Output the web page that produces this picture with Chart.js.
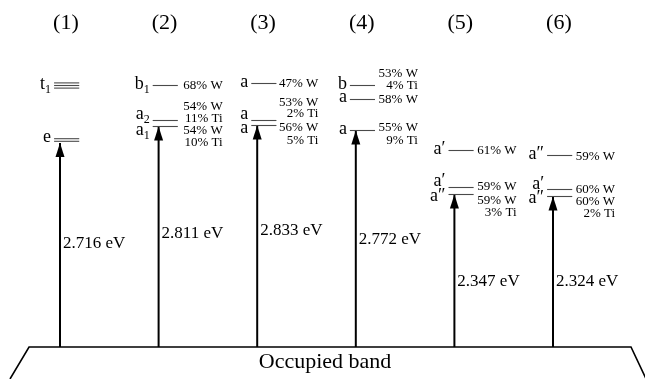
<!DOCTYPE html>
<html><head><meta charset="utf-8">
<script src="https://cdn.jsdelivr.net/npm/chart.js@4"></script>
<style>html,body{margin:0;padding:0;background:#fff}#wrap{width:645px;height:379px;position:relative}</style>
</head><body><div id="wrap"><canvas id="c"></canvas></div>
<script>
// ---------- DATA ----------
const columnTitles = ['(1)', '(2)', '(3)', '(4)', '(5)', '(6)'];
const excitationEnergies = [2.716, 2.811, 2.833, 2.772, 2.347, 2.324]; // eV
// level heights above the occupied band (diagram units), per column
const levelHeights = [
  [261.5, 207],
  [261.5, 226.5, 220.5],
  [263.5, 226.5, 221.5],
  [261.5, 247.5, 216.5],
  [196.5, 159.5, 152.5],
  [191.5, 157.5, 150.5]
];
const levelNames = [
  ['t', 'e'],
  ['b', 'a', 'a'],
  ['a', 'a', 'a'],
  ['b', 'a', 'a'],
  ['a\u2032', 'a\u2032', 'a\u2033'],
  ['a\u2033', 'a\u2032', 'a\u2033']
];
const levelSubs = [
  ['1', ''],
  ['1', '2', '1'],
  ['', '', ''],
  ['', '', ''],
  ['', '', ''],
  ['', '', '']
];
const levelDegeneracy = [
  [3, 2],
  [1, 1, 1],
  [1, 1, 1],
  [1, 1, 1],
  [1, 1, 1],
  [1, 1, 1]
];
// orbital composition labels and their heights
const compositionText = [
  [],
  ['68% W', '54% W', '11% Ti', '54% W', '10% Ti'],
  ['47% W', '53% W', '2% Ti', '56% W', '5% Ti'],
  ['53% W', '4% Ti', '58% W', '55% W', '9% Ti'],
  ['61% W', '59% W', '59% W', '3% Ti'],
  ['59% W', '60% W', '60% W', '2% Ti']
];
const compositionHeights = [
  [],
  [261, 240, 228, 216, 204],
  [263, 244, 233, 219, 206],
  [273, 261, 247, 219, 206],
  [196, 160, 146, 134],
  [190, 157, 145, 133]
];
const energyLabelHeights = [103, 113, 116, 107, 65, 65];
const bandLabel = 'Occupied band';
const bandOutline = [
  {x: -0.507, y: -32}, {x: -0.314, y: 0}, {x: 5.791, y: 0}, {x: 5.944, y: -32}
];

// ---------- LAYOUT ----------
const LINE_L = -0.06, LINE_R = 0.195;      // level line extent (column units)
const DEG_GAP = 2.6;                        // spacing of degenerate lines
const COMP_RIGHT = [0, 0.65, 0.62, 0.63, 0.63, 0.63];
const NAME_DY = [[0, 2], [0, 5, -5], [0, 5, -4], [0, 1, 0], [0, 5, -3], [0, 4, -3]];
const SERIF = '"Liberation Serif", "Times New Roman", serif';

const datasets = [];
datasets.push({data: bandOutline, showLine: true, borderColor: '#000', borderWidth: 1.6, pointRadius: 0, fill: false});
levelHeights.forEach((col, i) => {
  col.forEach((h, j) => {
    const n = levelDegeneracy[i][j];
    for (let k = 0; k < n; k++) {
      const yy = h + (k - (n - 1) / 2) * DEG_GAP;
      datasets.push({data: [{x: i + LINE_L, y: yy}, {x: i + LINE_R, y: yy}], showLine: true,
        borderColor: '#4a4a4a', borderWidth: 1.1, pointRadius: 0});
    }
  });
  datasets.push({data: [{x: i, y: 0}, {x: i, y: Math.min(...col) - (i === 0 ? 3 : 0)}], showLine: true,
    borderColor: '#000', borderWidth: 2, pointRadius: 0, isArrow: true});
});

const drawPlugin = {
  id: 'diagramText',
  afterDatasetsDraw(chart) {
    const {ctx, scales: {x, y}} = chart;
    ctx.save();
    // arrowheads
    chart.data.datasets.forEach(ds => {
      if (!ds.isArrow) return;
      const p = ds.data[1];
      const px = x.getPixelForValue(p.x), py = y.getPixelForValue(p.y);
      ctx.fillStyle = '#000';
      ctx.beginPath();
      ctx.moveTo(px, py);
      ctx.lineTo(px - 4.5, py + 14);
      ctx.lineTo(px + 4.5, py + 14);
      ctx.closePath();
      ctx.fill();
    });
    ctx.fillStyle = '#000';
    ctx.textBaseline = 'middle';
    // titles
    ctx.font = '22px ' + SERIF;
    ctx.textAlign = 'center';
    columnTitles.forEach((t, i) => ctx.fillText(t, x.getPixelForValue(i + 0.06), y.getPixelForValue(324)));
    // level names
    levelNames.forEach((col, i) => {
      col.forEach((nm, j) => {
        const sub = levelSubs[i][j];
        const rx = x.getPixelForValue(i + LINE_L) - 3;
        const cy = y.getPixelForValue(levelHeights[i][j] + NAME_DY[i][j]);
        ctx.font = '12px ' + SERIF;
        const sw = sub ? ctx.measureText(sub).width : 0;
        ctx.font = '18px ' + SERIF;
        ctx.textAlign = 'right';
        ctx.fillText(nm, rx - sw, cy - 1);
        if (sub) {
          ctx.font = '12px ' + SERIF;
          ctx.textAlign = 'left';
          ctx.fillText(sub, rx - sw, cy + 4);
        }
      });
    });
    // compositions
    ctx.font = '13px ' + SERIF;
    ctx.textAlign = 'right';
    compositionText.forEach((col, i) => {
      col.forEach((t, j) => ctx.fillText(t, x.getPixelForValue(i + COMP_RIGHT[i]), y.getPixelForValue(compositionHeights[i][j])));
    });
    // energies
    ctx.font = '17px ' + SERIF;
    ctx.textAlign = 'left';
    excitationEnergies.forEach((e, i) => ctx.fillText(e.toFixed(3) + ' eV', x.getPixelForValue(i + 0.03), y.getPixelForValue(energyLabelHeights[i])));
    // band label
    ctx.font = '22px ' + SERIF;
    ctx.textAlign = 'center';
    ctx.fillText(bandLabel, x.getPixelForValue(2.688), y.getPixelForValue(-15));
    ctx.restore();
  }
};

new Chart(document.getElementById('c'), {
  type: 'scatter',
  data: {datasets},
  options: {
    responsive: true, maintainAspectRatio: false, animation: false,
    layout: {padding: 0},
    plugins: {legend: {display: false}, tooltip: {enabled: false}},
    scales: {
      x: {type: 'linear', min: -0.6085, max: 5.933, display: false},
      y: {type: 'linear', min: -32, max: 347, display: false}
    }
  },
  plugins: [drawPlugin]
});
</script></body></html>
